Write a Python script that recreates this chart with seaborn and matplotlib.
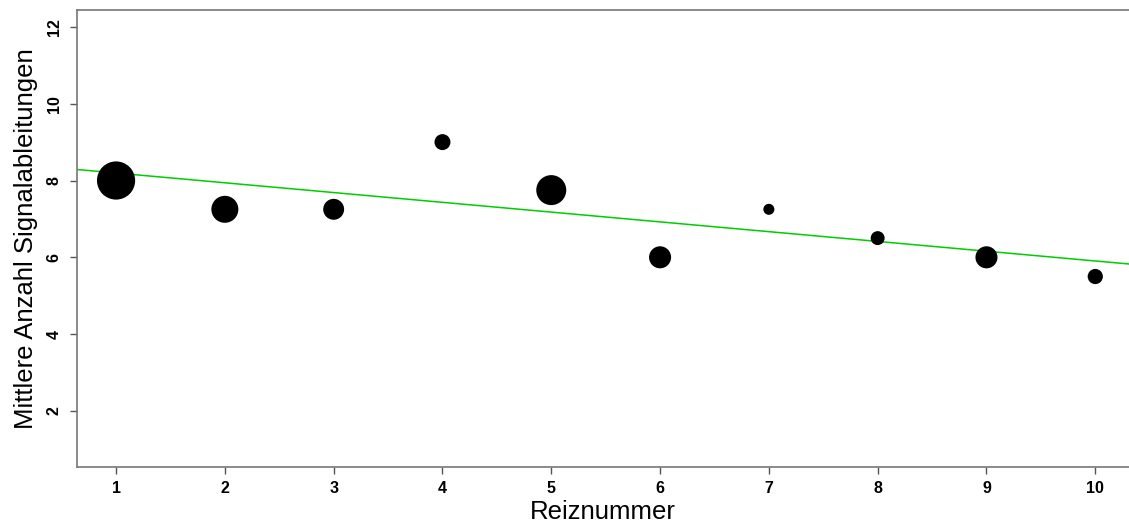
import numpy as np
import pandas as pd
import seaborn as sns
import matplotlib.pyplot as plt

# Werte
reiznummer = [1, 2, 3, 4, 5, 6, 7, 8, 9, 10]
signale = [8.0, 7.25, 7.25, 9.0, 7.75, 6.0, 7.25, 6.5, 6.0, 5.5]
anzahl = [12, 6, 3.6, 2.1, 7.4, 4, 1, 1.6, 4, 1.9]

df = pd.DataFrame({'Reiznummer': reiznummer, 'Signale': signale, 'Anzahl': anzahl})

sns.set_style('white')
plt.rcParams['font.family'] = ['Liberation Sans', 'DejaVu Sans']
plt.rcParams['text.color'] = 'black'
plt.rcParams['axes.labelcolor'] = 'black'
plt.rcParams['xtick.color'] = 'black'
plt.rcParams['ytick.color'] = 'black'

fig = plt.figure(figsize=(11.29, 5.27), dpi=100)
ax = fig.add_axes([0.0682, 0.1139, 0.9318, 0.8671])
ax.set_xlim(0.641, 10.31)
ax.set_ylim(0.54, 12.44)

# Bubbles: Flaeche proportional zur Anzahl
sns.scatterplot(data=df, x='Reiznummer', y='Signale', size='Anzahl',
                sizes=(63, 756), size_norm=(1, 12), color='black',
                edgecolor='black', linewidth=0, legend=False, ax=ax, zorder=3)

# Regressionsgerade ueber die ganze Breite
sns.regplot(data=df, x='Reiznummer', y='Signale', scatter=False, ci=None,
            truncate=False, color='#00CD00', line_kws={'linewidth': 1.1}, ax=ax)

ax.set_xticks(reiznummer)
ax.set_yticks([2, 4, 6, 8, 10, 12])
ax.tick_params(axis='both', length=5, width=1, color='#555555', labelsize=11.5,
               labelcolor='black', direction='out', left=True, bottom=True)
ax.tick_params(axis='x', pad=5)
ax.tick_params(axis='y', pad=6)
for lab in ax.get_xticklabels() + ax.get_yticklabels():
    lab.set_fontweight('bold')
for lab in ax.get_yticklabels():
    lab.set_rotation(90)
    lab.set_va('center')

for side in ['left', 'bottom', 'top']:
    ax.spines[side].set_color('#777777')
    ax.spines[side].set_linewidth(1.2)
ax.spines['right'].set_visible(False)

ax.set_xlabel('Reiznummer', fontsize=18.5, labelpad=3)
ax.set_ylabel('Mittlere Anzahl Signalableitungen', fontsize=18.5, labelpad=6)

plt.savefig('out.png', dpi=100)
